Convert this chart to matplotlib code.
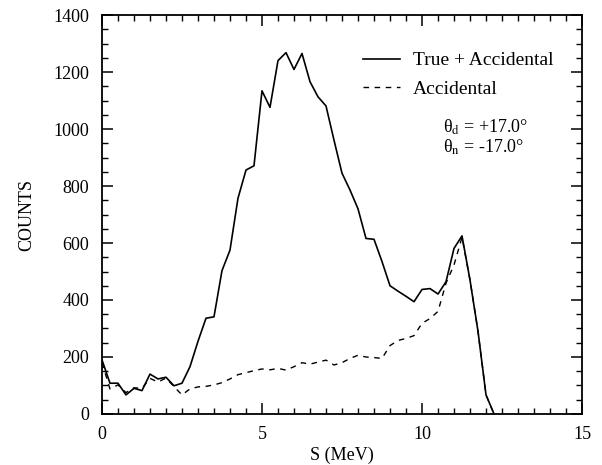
import numpy as np
import matplotlib.pyplot as plt
from matplotlib.ticker import MultipleLocator

plt.rcParams['font.family'] = ['Liberation Serif', 'DejaVu Serif']
plt.rcParams['mathtext.fontset'] = 'stix'

# S in MeV, 0.25 MeV bins
s_mev = np.arange(0, 12.26, 0.25)

# true + accidental counts
total = [190, 108, 108, 67, 90, 82, 140, 123, 129, 99,
         108, 166, 255, 336, 341, 503, 575, 757, 856, 871,
         1134, 1076, 1240, 1268, 1209, 1265, 1166, 1113, 1081, 961,
         845, 786, 720, 616, 613, 535, 450, 431, 413, 394,
         437, 440, 421, 464, 581, 625, 470, 290, 67, 0]

# accidental counts
accidental = [180, 88, 102, 75, 92, 90, 125, 112, 126, 96,
              67, 88, 95, 97, 102, 110, 123, 138, 145, 152,
              158, 155, 160, 154, 166, 180, 175, 182, 189, 172,
              180, 195, 206, 200, 198, 195, 240, 258, 265, 275,
              318, 335, 360, 459, 523, 620, 470, 290, 67, 0]

fig = plt.figure(figsize=(6.02, 4.65), dpi=100)
ax = fig.add_axes([0.1694, 0.1097, 0.7974, 0.858])

ax.plot(s_mev, total, color='black', linewidth=1.2, label='True + Accidental')
ax.plot(s_mev, accidental, color='black', linewidth=1.0, linestyle=(0, (4, 4)),
        label='Accidental')

ax.set_xlim(0, 15)
ax.set_ylim(0, 1400)
ax.xaxis.set_major_locator(MultipleLocator(5))
ax.xaxis.set_minor_locator(MultipleLocator(0.5))
ax.yaxis.set_major_locator(MultipleLocator(200))
ax.yaxis.set_minor_locator(MultipleLocator(50))
ax.tick_params(which='both', direction='in', top=True, right=True, labelsize=13)
ax.tick_params(which='major', length=8, width=1.1, pad=9)
ax.tick_params(which='minor', length=4, width=1.0)
for sp in ax.spines.values():
    sp.set_linewidth(1.3)

ax.set_xlabel('S (MeV)', fontsize=13, labelpad=2)
ax.set_ylabel('COUNTS', fontsize=13, labelpad=13)

ax.legend(loc='upper left', bbox_to_anchor=(0.544, 0.908), frameon=False,
          fontsize=14, handlelength=1.9, handletextpad=0.65, labelspacing=0.55,
          borderpad=0, borderaxespad=0)

ax.text(0.71, 0.719, 'θ$_{\\rm d}$ = +17.0°', transform=ax.transAxes,
        fontsize=13, va='center')
ax.text(0.71, 0.669, 'θ$_{\\rm n}$ = -17.0°', transform=ax.transAxes,
        fontsize=13, va='center')

fig.savefig('out.png', dpi=100)
